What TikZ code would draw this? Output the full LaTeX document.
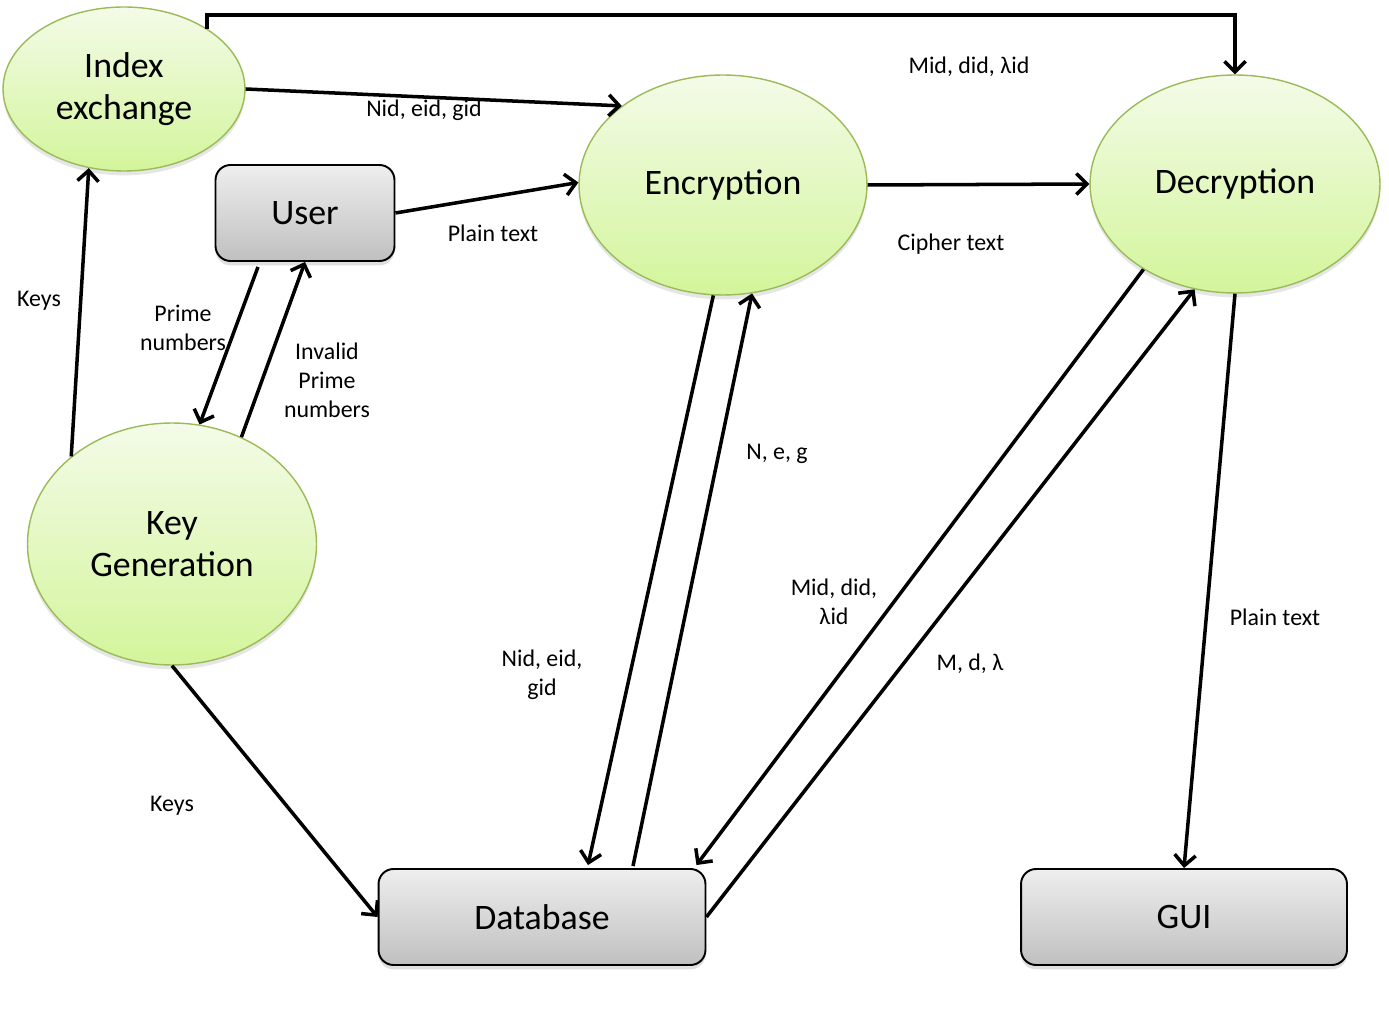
\documentclass[tikz,border=0pt]{standalone}
\usepackage{fontspec}
\setmainfont{Carlito}
\usetikzlibrary{arrows.meta,shapes.geometric,shadows,calc}
\definecolor{procedge}{HTML}{9BBB59}
\definecolor{proctop}{HTML}{F4FBE8}
\definecolor{procbot}{HTML}{D3F59B}
\definecolor{boxtop}{HTML}{EEEEEE}
\definecolor{boxbot}{HTML}{C0C0C0}
\tikzset{
  proc/.style={ellipse, draw=procedge, line width=0.8pt, top color=proctop, bottom color=procbot,
    inner sep=0pt, align=center, font=\fontsize{20.4}{24}\selectfont,
    drop shadow={opacity=0.2, shadow xshift=0pt, shadow yshift=-2.5pt}},
  store/.style={rectangle, rounded corners=0.3cm, draw=black, line width=1.1pt, top color=boxtop, bottom color=boxbot,
    inner sep=0pt, font=\fontsize{20.4}{24}\selectfont,
    drop shadow={opacity=0.25, shadow xshift=0pt, shadow yshift=-2.5pt}},
  lbl/.style={align=center, inner sep=0pt, font=\fontsize{13.6}{16.5}\selectfont},
  flow/.style={line width=2pt, -{Straight Barb[length=6pt,width=12pt]}}
}
\begin{document}
\begin{tikzpicture}[x=0.02cm, y=-0.02cm]
            \useasboundingbox (0,0) rectangle (1389,1033);

            % Define nodes
            \node[proc, minimum width=4.84cm, minimum height=3.28cm] (idx) at (124,89) {Index\\exchange};
            \node[proc, minimum width=5.76cm, minimum height=4.4cm] (enc) at (723,185) {Encryption};
            \node[proc, minimum width=5.8cm, minimum height=4.36cm] (dec) at (1235,184) {Decryption};
            \node[proc, minimum width=5.78cm, minimum height=4.84cm] (kg) at (172,544) {Key\\Generation};
            \node[store, minimum width=3.58cm, minimum height=1.92cm] (user) at (305,213) {User};
            \node[store, minimum width=6.54cm, minimum height=1.92cm] (db) at (542,917) {Database};
            \node[store, minimum width=6.52cm, minimum height=1.92cm] (gui) at (1184,917) {GUI};
            \coordinate (top) at (1235,15);

            % Draw edges
            \draw[flow] (idx.36) -- (idx.36 |- top) -- (top) -- (dec.north);
            \draw[flow] (idx.east) -- (enc.142);
            \draw[flow] (user.east) -- (enc.179);
            \draw[flow] (enc.east) -- (dec.west);
            \draw[flow] (kg.139) -- (idx.246);
            \draw[flow] ($(user.south)+(-47,5)$) -- (kg.77);
            \draw[flow] (kg.57) -- (user.south);
            \draw[flow] (kg.south) -- (db.west);
            \draw[flow] (enc.265) -- ($(db.north)+(46,-3)$);
            \draw[flow] ($(db.north)+(91,-2)$) -- (enc.285);
            \draw[flow] (dec.223) -- ($(db.north east)+(-10,-3)$);
            \draw[flow] (db.east) -- (dec.249);
            \draw[flow] (dec.south) -- (gui.north);

            % Labels
            \node[lbl] (l1) at (969,67) {Mid, did, λid};
            \node[lbl] (l2) at (424,110) {Nid, eid, gid};
            \node[lbl] (l3) at (493,233) {Plain text};
            \node[lbl] (l4) at (951,244) {Cipher text};
            \node[lbl] (l5) at (39,301) {Keys};
            \node[lbl] (l6) at (183,328) {Prime\\numbers};
            \node[lbl] (l7) at (327,380) {Invalid\\Prime\\numbers};
            \node[lbl] (l8) at (172,806) {Keys};
            \node[lbl] (l9) at (542,675) {Nid, eid,\\gid};
            \node[lbl] (l10) at (777,454) {N, e, g};
            \node[lbl] (l11) at (834,602) {Mid, did,\\λid};
            \node[lbl] (l12) at (970,664) {M, d, λ};
            \node[lbl] (l13) at (1275,617) {Plain text};

        \end{tikzpicture}
\end{document}
